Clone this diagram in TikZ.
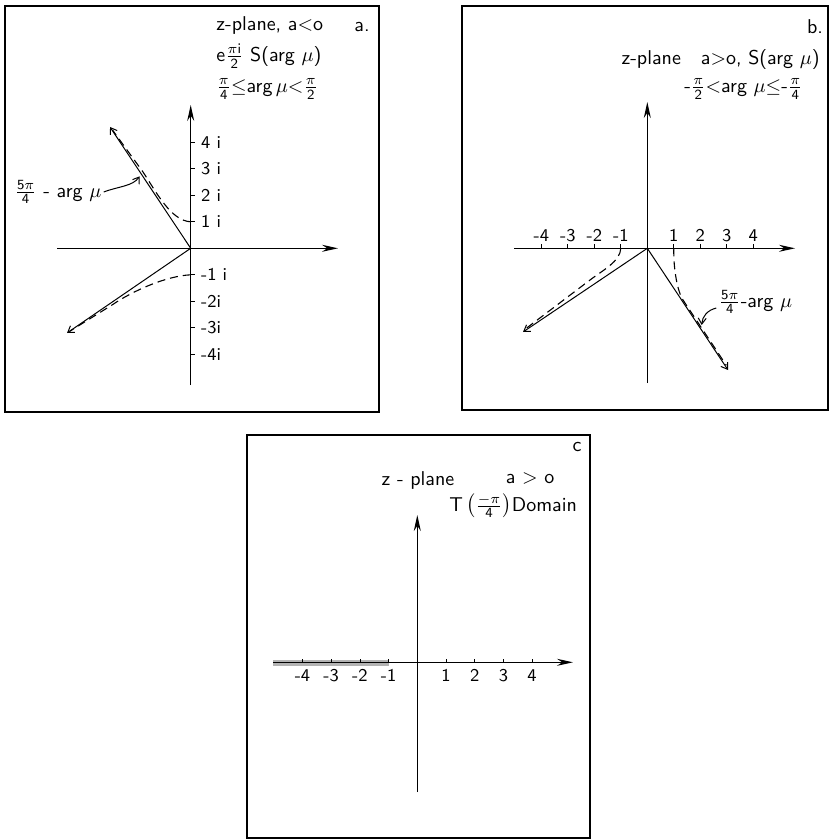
\documentclass[tikz,border=0pt]{standalone}
\usetikzlibrary{arrows.meta}

\begin{document}
\begin{tikzpicture}[
        x=0.5pt, y=0.5pt,
        frame/.style={draw, line width=0.7pt},
        axis/.style={-{Stealth[length=8pt,width=3.5pt]}, line width=0.6pt},
        ray/.style={-{Straight Barb[length=3pt,width=4pt]}, line width=0.5pt},
        curve/.style={dash pattern=on 4pt off 2.5pt, line width=0.55pt},
        pointer/.style={-{Straight Barb[length=3pt,width=4pt]}, line width=0.5pt},
        txt/.style={font=\sffamily, inner sep=0pt},
        ticklbl/.style={font=\sffamily\small, inner sep=1pt}
    ]
    \useasboundingbox (0,0) rectangle (830,-839);

    % Upper left diagram - a<o
    \begin{scope}[shift={(190.7,-248.3)}]
    \draw[frame] (-185.7,242.3) rectangle (188.3,-163.7);
    \coordinate (Oa) at (0,0);
    \coordinate (XaL) at (-133.7,0);
    \coordinate (XaR) at (147.3,0);
    \coordinate (YaB) at (0,-136.7);
    \coordinate (YaT) at (0,143.3);
    \draw[axis] (XaL) -- (XaR);
    \draw[axis] (YaB) -- (YaT);
    \foreach \k/\t in {4/4 i, 3/3 i, 2/2 i, 1/1 i, -1/-1 i, -2/-2i, -3/-3i, -4/-4i}
        \draw (0,{26.5*(\k)}) -- (4,{26.5*(\k)}) node[ticklbl, right, xshift=2pt] (ta\k) {\t};
    \coordinate (Ua) at (-80.7,121.3);
    \coordinate (La) at (-123.7,-84.7);
    \draw[ray] (Oa) -- (Ua);
    \draw[ray] (Oa) -- (La);
    \draw[curve] (0,26.5) .. controls (-20,27.5) and (-34.7,56.8) .. (-47.7,76.3) -- (-78,118);
    \draw[curve] (0,-26.5) .. controls (-25,-27.7) and (-58.7,-43) .. (-78.7,-56.7) -- (-121,-83);
    \node[txt] (lblA) at (-132.7,56.3) {$\frac{\mathsf{5}\pi}{\mathsf{4}}$ - arg $\mu$};
    \coordinate (tipA) at (-51,72);
    \draw[pointer] ([xshift=1pt]lblA.east) .. controls (-72,62) and (-58,62) .. (tipA);
    \node[txt, anchor=west] (zA) at (25.3,222.3) {z-plane, a<o};
    \node[txt] (tagA) at (171.3,221.3) {a.};
    \node[txt, anchor=west] (eA) at (25.3,192.3) {$\mathsf{e}\frac{\pi\mathsf{i}}{\mathsf{2}}$ S(arg $\mu$)};
    \node[txt, anchor=west] (rangeA) at (25.3,159.3) {$\frac{\pi}{\mathsf{4}}{\leq}\mbox{arg}\,\mu{<}\frac{\pi}{\mathsf{2}}$};
    \end{scope}

    % Upper right diagram - a>o
    \begin{scope}[shift={(647.3,-248.3)}]
    \draw[frame] (-185.3,242.3) rectangle (180.7,-161.7);
    \coordinate (Ob) at (0,0);
    \coordinate (XbL) at (-133.3,0);
    \coordinate (XbR) at (147.7,0);
    \coordinate (YbB) at (0,-134.7);
    \coordinate (YbT) at (0,146.3);
    \draw[axis] (XbL) -- (XbR);
    \draw[axis] (YbB) -- (YbT);
    \foreach \k in {-4,-3,-2,-1,1,2,3,4}
        \draw ({26.5*(\k)},0) -- ({26.5*(\k)},4) node[ticklbl, above] (tb\k) {\k};
    \coordinate (Lb) at (-124.3,-83.7);
    \coordinate (Rb) at (80.7,-121.7);
    \draw[ray] (Ob) -- (Lb);
    \draw[ray] (Ob) -- (Rb);
    \draw[curve] (-26.5,0) .. controls (-27,-13) and (-44,-21.6) .. (-57.3,-31.7) -- (-121,-80);
    \draw[curve] (26.5,0) .. controls (26,-20) and (30,-43) .. (35.7,-51.7) -- (79,-117);
    \node[txt, anchor=west] (lblB) at (71,-53.7) {$\frac{\mathsf{5}\pi}{\mathsf{4}}$-arg $\mu$};
    \coordinate (tipB) at (54.4,-76.7);
    \draw[pointer] ([xshift=-1pt,yshift=-3pt]lblB.west) .. controls (60,-62) and (55,-68) .. (tipB);
    \node[txt] (tagB) at (167.7,221.3) {b.};
    \node[txt, anchor=east] (zB) at (172.7,188.3) {z-plane\quad a>o, S(arg $\mu$)};
    \node[txt, anchor=east] (rangeB) at (155.7,159.3) {\mbox{-}$\frac{\pi}{\mathsf{2}}{<}\mbox{arg }\mu{\leq}\mbox{-}\frac{\pi}{\mathsf{4}}$};
    \end{scope}

    % Lower diagram - T domain
    \begin{scope}[shift={(417.3,-662.3)}]
    \draw[frame] (-170.3,227.3) rectangle (172.7,-175.7);
    \fill[gray!60] (-144.3,2) rectangle (-28,-3.5);
    \coordinate (Oc) at (0,0);
    \coordinate (XcL) at (-144.3,0);
    \coordinate (XcR) at (155.7,0);
    \coordinate (YcB) at (0,-129.7);
    \coordinate (YcT) at (0,147.3);
    \draw[axis] (XcL) -- (XcR);
    \draw[axis] (YcB) -- (YcT);
    \foreach \k in {-4,-3,-2,-1,1,2,3,4} {
        \draw ({28.7*(\k)},0) -- ({28.7*(\k)},3);
        \node[ticklbl, below] (tc\k) at ({28.7*(\k)},-5) {\k};
    }
    \node[txt] (tagC) at (159.7,215.3) {c};
    \node[txt] (zC) at (0.7,182.3) {z - plane};
    \node[txt] (aC) at (112.7,184.3) {a > o};
    \node[txt, anchor=east] (domC) at (160,156.3) {$\mbox{T}\left(\frac{-\pi}{\mathsf{4}}\right)$Domain};
    \end{scope}
\end{tikzpicture}
\end{document}
